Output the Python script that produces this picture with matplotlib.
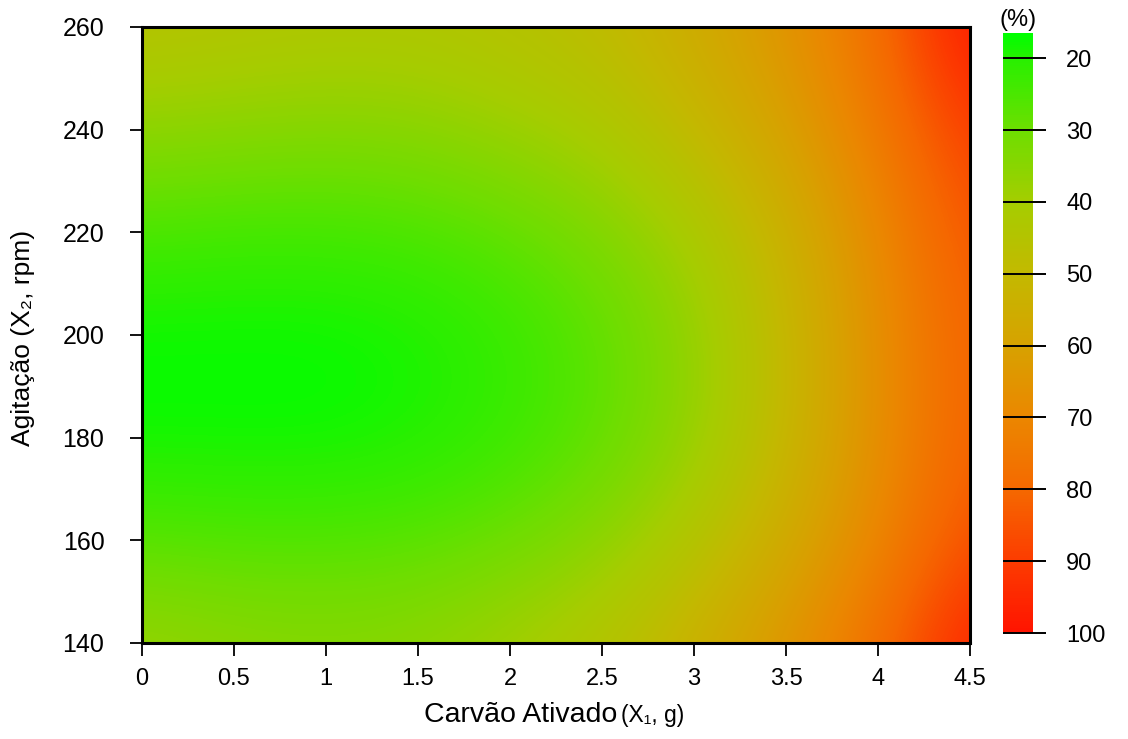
import numpy as np
import matplotlib
matplotlib.use("Agg")
import matplotlib.pyplot as plt
from matplotlib.colors import LinearSegmentedColormap

# response readings (%) on a grid: rows = agitation, cols = activated carbon
carvao = [0, 0.5, 1.0, 1.5, 2.0, 2.5, 3.0, 3.5, 4.0, 4.5]
agitacao = [140, 160, 180, 200, 220, 240, 260]
resposta = [
    [38, 36, 35, 36, 40, 45, 54, 65, 78, 97],              # 140
    [27, 26, 26, 27, 30, 35, 44, 56, 70, 86],              # 160
    [17.5, 17.5, 17.5, 19, 22.5, 28, 36.5, 50.5, 67, 82],  # 180
    [17, 17, 17, 18.5, 22, 27.5, 36, 50, 67, 82],          # 200
    [25, 24, 24, 25, 28, 33, 41, 53, 69, 85],              # 220
    [36, 35, 34, 35, 38, 42, 50, 60, 74, 90],              # 240
    [46, 45, 44, 44, 46, 49, 56, 65, 78, 100],             # 260
]
cb_ticks = [20, 30, 40, 50, 60, 70, 80, 90, 100]
vmin, vmax = 16.5, 100

# green -> olive -> orange -> red
cb_vals = [16.5, 20, 30, 40, 50, 60, 70, 80, 90, 100]
cb_cols = [(0, 255, 0), (40, 240, 0), (110, 222, 0), (165, 205, 0), (195, 185, 0),
           (215, 162, 0), (235, 135, 0), (245, 105, 0), (252, 60, 0), (255, 20, 0)]
cmap = LinearSegmentedColormap.from_list(
    "gr", [((v - vmin) / (vmax - vmin), tuple(c / 255 for c in col)) for v, col in zip(cb_vals, cb_cols)])

plt.rcParams["font.family"] = ["Liberation Sans", "DejaVu Sans"]

W, H = 1128, 739
fig = plt.figure(figsize=(W / 100, H / 100), dpi=100)
ax = fig.add_axes([142 / W, 1 - 643 / H, (970 - 142) / W, (643 - 27) / H])

dx = (carvao[1] - carvao[0]) / 2
dy = (agitacao[1] - agitacao[0]) / 2
im = ax.imshow(np.array(resposta), origin="lower", aspect="auto", cmap=cmap,
               vmin=vmin, vmax=vmax, interpolation="bicubic", interpolation_stage="data",
               extent=[carvao[0] - dx, carvao[-1] + dx, agitacao[0] - dy, agitacao[-1] + dy])
ax.set_xlim(carvao[0], carvao[-1])
ax.set_ylim(agitacao[0], agitacao[-1])

ax.set_xticks(carvao)
ax.set_xticklabels(["0", "0.5", "1", "1.5", "2", "2.5", "3", "3.5", "4", "4.5"])
ax.set_yticks(agitacao)
ax.tick_params(axis="y", length=9, width=1.3, pad=18, labelsize=18)
ax.tick_params(axis="x", length=9, width=1.3, pad=9, labelsize=17)
for s in ax.spines.values():
    s.set_linewidth(2.2)

# axis labels: main text plus a smaller parenthetical
fig.text(617 / W, 1 - 722 / H, "Carvão Ativado", fontsize=20.5, ha="right", va="baseline")
fig.text(621 / W, 1 - 722 / H, "(X\u2081, g)", fontsize=16.5, ha="left", va="baseline")
fig.text(23 / W, 1 - 338 / H, "Agitação (X\u2082, rpm)", fontsize=19, rotation=90,
         ha="center", va="center")

# colour bar, green (low) at the top
cax = fig.add_axes([1003 / W, 1 - 633 / H, 30 / W, 600 / H])
cb = fig.colorbar(im, cax=cax)
cb.outline.set_visible(False)
cax.set_ylim(vmax, vmin)
cb.set_ticks(cb_ticks)
cax.tick_params(length=0, pad=24, labelsize=17)
cax.hlines(cb_ticks, 0, 1.42, transform=cax.get_yaxis_transform(), colors="k",
           linewidth=1.4, clip_on=False)
fig.text(1018 / W, 1 - 20 / H, "(%)", fontsize=17, ha="center", va="center")

fig.savefig("out.png", dpi=100)
